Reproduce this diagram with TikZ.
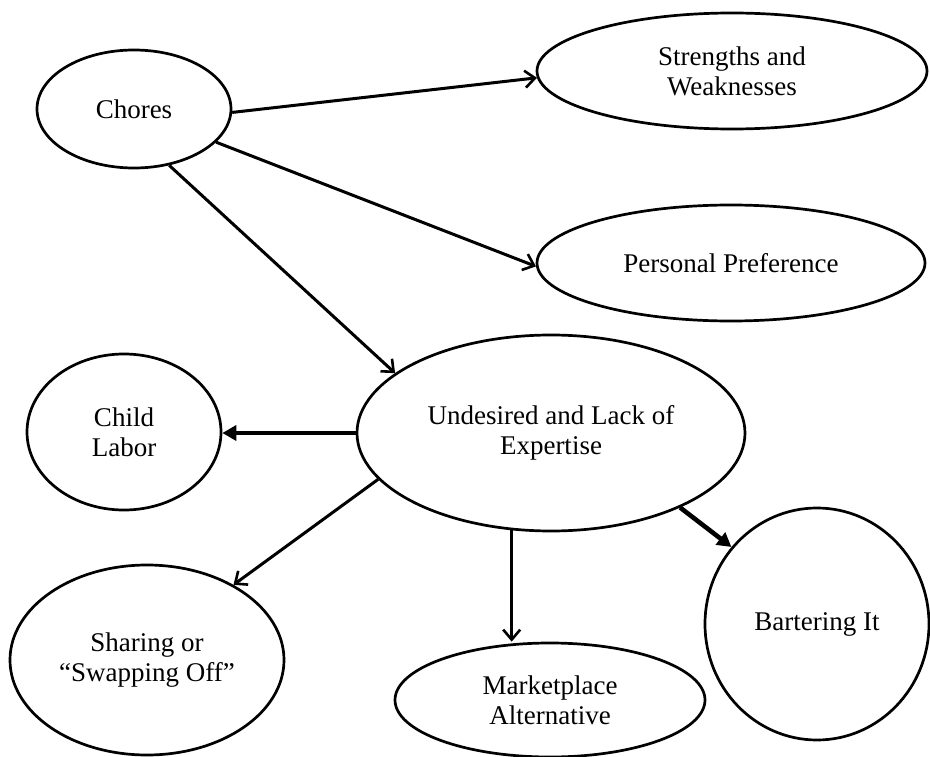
\documentclass[tikz,border=0pt]{standalone}
\usepackage{fontspec}
\setmainfont{Liberation Serif}
\usetikzlibrary{shapes.geometric,arrows.meta}
\begin{document}
\begin{tikzpicture}[x=1pt,y=-1pt,
  bub/.style={ellipse,draw,line width=2.7pt,inner sep=0pt,align=center,
    font=\fontsize{27}{30}\selectfont},
  conn/.style={line width=3pt,-{Straight Barb[length=10pt,width=17pt,line width=2.6pt]}},
  bold/.style={line width=4.6pt,-{Triangle[length=14pt,width=15pt]}}]
\useasboundingbox (0,0) rectangle (930,757);
\node[bub,minimum width=194pt,minimum height=118pt] (chores) at (134,109) {Chores};
\node[bub,minimum width=390pt,minimum height=116pt] (sw) at (732,71) {Strengths and\\Weaknesses};
\node[bub,minimum width=388pt,minimum height=116pt] (pp) at (731,263) {Personal Preference};
\node[bub,minimum width=388pt,minimum height=196pt] (und) at (551,433) {Undesired and Lack of\\Expertise};
\node[bub,minimum width=194pt,minimum height=156pt] (child) at (124,432) {Child\\Labor};
\node[bub,minimum width=274pt,minimum height=190pt] (share) at (147,660) {Sharing or\\``Swapping Off''};
\node[bub,minimum width=310pt,minimum height=114pt] (mk) at (550,700) {Marketplace\\Alternative};
\node[bub,minimum width=224pt,minimum height=232pt] (bart) at (817,624) {Bartering It};
\draw[conn] (chores.-2) -- (sw.182);
\draw[conn] (chores.-22) -- (pp.181);
\draw[conn] (chores.-58.6) -- (und.159);
\draw[bold] (und.west) -- (und.west -| child.east);
\draw[conn] (und.195) -- (share.41);
\draw[conn] (und.248.4) -- (und.248.4 |- mk.north);
\draw[bold] (und.-30.8) -- (bart.138.2);
\end{tikzpicture}
\end{document}
